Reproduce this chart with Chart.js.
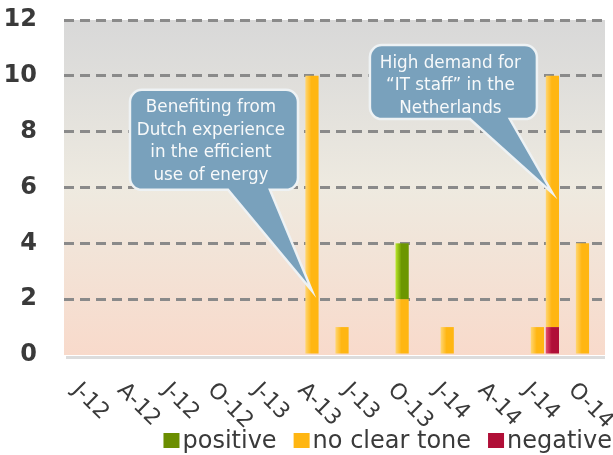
<!DOCTYPE html>
<html>
<head>
<meta charset="utf-8">
<script src="https://cdn.jsdelivr.net/npm/chart.js@4.4.1/dist/chart.umd.min.js"></script>
<style>
  html, body { margin: 0; padding: 0; background: #fff; }
  canvas { display: block; }
</style>
</head>
<body>
<canvas id="chart" width="613" height="455"></canvas>
<script>
// one slot per month, Jan 2012 - Dec 2014 (only every 3rd label is shown)
const months = [
  'J-12','F-12','M-12','A-12','M-12','J-12','J-12','A-12','S-12','O-12','N-12','D-12',
  'J-13','F-13','M-13','A-13','M-13','J-13','J-13','A-13','S-13','O-13','N-13','D-13',
  'J-14','F-14','M-14','A-14','M-14','J-14','J-14','A-14','S-14','O-14','N-14','D-14'
];

// stacked bottom to top: negative, no clear tone, positive
const negative = [
  0,0,0,0,0,0,0,0,0,0,0,0,
  0,0,0,0,0,0,0,0,0,0,0,0,
  0,0,0,0,0,0,0,0,1,0,0,0
];
const noClearTone = [
  0,0,0,0,0,0,0,0,0,0,0,0,
  0,0,0,0,10,0,1,0,0,0,2,0,
  0,1,0,0,0,0,0,1,9,0,4,0
];
const positive = [
  0,0,0,0,0,0,0,0,0,0,0,0,
  0,0,0,0,0,0,0,0,0,0,2,0,
  0,0,0,0,0,0,0,0,0,0,0,0
];

const yTicks = [0, 2, 4, 6, 8, 10, 12];

// speech bubbles: text and the point (month index, value) the tail points at
const callouts = [
  { lines: ['Benefiting from', 'Dutch experience', 'in the efficient', 'use of energy'], month: 16, value: 2.3 },
  { lines: ['High demand for', '\u201CIT staff\u201D in the', 'Netherlands'], month: 32, value: 5.8 }
];

const BAR_PCT = 0.88;

// light left edge -> full colour, like the original bars
function barGradient(light, dark) {
  return (c) => {
    const chart = c.chart;
    if (!chart.chartArea || c.dataIndex === undefined) return dark;
    const x = chart.scales.x;
    const w = (x.right - x.left) / months.length * BAR_PCT;
    const cx = x.getPixelForValue(c.dataIndex);
    const g = chart.ctx.createLinearGradient(cx - w / 2, 0, cx + w / 2, 0);
    g.addColorStop(0, light);
    g.addColorStop(0.45, dark);
    g.addColorStop(1, dark);
    return g;
  };
}

const plotBackground = {
  id: 'plotBackground',
  beforeDraw(chart) {
    const { ctx, chartArea: a } = chart;
    const g = ctx.createLinearGradient(0, a.top, 0, a.bottom);
    g.addColorStop(0, '#d8d8d8');
    g.addColorStop(0.18, '#dfdedb');
    g.addColorStop(0.5, '#eeeae0');
    g.addColorStop(0.78, '#f4e1d4');
    g.addColorStop(1, '#f8dacb');
    ctx.save();
    ctx.fillStyle = g;
    ctx.fillRect(a.left, a.top, a.right - a.left, a.bottom - a.top);
    // soft grey line under the plot
    ctx.fillStyle = '#dcdcdc';
    ctx.fillRect(a.left + 2, a.bottom + 1, a.right - a.left - 2, 3);
    ctx.restore();
  }
};

const slantedLabels = {
  id: 'slantedLabels',
  afterDraw(chart) {
    const { ctx, chartArea } = chart;
    const x = chart.scales.x;
    ctx.save();
    ctx.font = '22px "DejaVu Sans"';
    ctx.fillStyle = '#3a3a3a';
    ctx.textAlign = 'left';
    ctx.textBaseline = 'middle';
    months.forEach((m, i) => {
      if (i % 3) return;
      ctx.save();
      ctx.translate(x.getPixelForValue(i) + 4, chartArea.bottom + 32);
      ctx.rotate(Math.PI / 4);
      ctx.fillText(m, 0, 0);
      ctx.restore();
    });
    ctx.restore();
  }
};

const legendRow = {
  id: 'legendRow',
  afterDraw(chart) {
    const { ctx } = chart;
    const items = chart.data.datasets.slice().reverse();
    ctx.save();
    ctx.font = '24px "DejaVu Sans"';
    ctx.textBaseline = 'alphabetic';
    const widths = items.map(d => ctx.measureText(d.label).width);
    const total = widths.reduce((s, w) => s + w, 0) + items.length * 19 + (items.length - 1) * 17;
    let x = chart.width - 1 - total;
    items.forEach((d, i) => {
      ctx.fillStyle = d.swatch;
      ctx.fillRect(x, 433, 16, 15);
      x += 19;
      ctx.fillStyle = '#3a3a3a';
      ctx.fillText(d.label, x, 448);
      x += widths[i] + 17;
    });
    ctx.restore();
  }
};

function bubblePath(ctx, bx, by, bw, bh, r, t1, t2, tx, ty) {
  ctx.beginPath();
  ctx.moveTo(bx + r, by);
  ctx.lineTo(bx + bw - r, by);
  ctx.arcTo(bx + bw, by, bx + bw, by + r, r);
  ctx.lineTo(bx + bw, by + bh - r);
  ctx.arcTo(bx + bw, by + bh, bx + bw - r, by + bh, r);
  ctx.lineTo(bx + t2, by + bh);
  ctx.lineTo(tx, ty);
  ctx.lineTo(bx + t1, by + bh);
  ctx.lineTo(bx + r, by + bh);
  ctx.arcTo(bx, by + bh, bx, by + bh - r, r);
  ctx.lineTo(bx, by + r);
  ctx.arcTo(bx, by, bx + r, by, r);
  ctx.closePath();
}

const bubbles = {
  id: 'bubbles',
  afterDatasetsDraw(chart, args, opts) {
    const { ctx } = chart;
    const { x, y } = chart.scales;
    callouts.forEach((c, k) => {
      const box = opts.boxes[k];
      const tx = x.getPixelForValue(c.month);
      const ty = y.getPixelForValue(c.value);
      const bx = tx + box.dx, by = ty + box.dy;
      ctx.save();
      bubblePath(ctx, bx, by, box.w, box.h, 12, box.tail[0], box.tail[1], tx, ty);
      ctx.fillStyle = '#79a1bc';
      ctx.fill();
      ctx.lineWidth = 2.5;
      ctx.strokeStyle = '#eef2f4';
      ctx.stroke();
      ctx.font = '16.8px "DejaVu Sans"';
      ctx.fillStyle = '#f7f9fa';
      ctx.textAlign = 'center';
      ctx.textBaseline = 'alphabetic';
      c.lines.forEach((line, i) => {
        ctx.fillText(line, bx + box.w / 2 - 3, by + 22.5 + i * 22.5);
      });
      ctx.restore();
    });
  }
};

new Chart(document.getElementById('chart'), {
  type: 'bar',
  data: {
    labels: months,
    datasets: [
      { label: 'negative', data: negative, swatch: '#b00f37',
        backgroundColor: barGradient('#e9506f', '#b00f37') },
      { label: 'no clear tone', data: noClearTone, swatch: '#ffb612',
        backgroundColor: barGradient('#ffd673', '#ffb612') },
      { label: 'positive', data: positive, swatch: '#6b8e00',
        backgroundColor: barGradient('#b9e82c', '#6c9600') }
    ]
  },
  options: {
    responsive: false,
    animation: false,
    layout: { padding: { top: 20, right: 8, left: 0, bottom: 0 } },
    datasets: { bar: { barPercentage: BAR_PCT, categoryPercentage: 1, borderWidth: 0 } },
    scales: {
      x: {
        stacked: true,
        grid: { display: false },
        border: { display: false },
        ticks: { display: false },
        afterFit(scale) { scale.height = 100; }
      },
      y: {
        stacked: true,
        min: 0,
        max: 12,
        afterBuildTicks(scale) { scale.ticks = yTicks.map(v => ({ value: v })); },
        afterFit(scale) {
          scale.width = 64;
          scale.paddingTop = 0;
          scale.paddingBottom = 0;
        },
        grid: {
          drawTicks: false,
          lineWidth: 3,
          color: (c) => c.tick && c.tick.value === 0 ? 'rgba(0,0,0,0)' : '#8a8a8a'
        },
        border: { display: false, dash: [10, 6] },
        ticks: {
          padding: 27,
          color: '#3a3a3a',
          font: { family: 'DejaVu Sans', size: 24, weight: 'bold' }
        }
      }
    },
    plugins: {
      legend: { display: false },
      tooltip: { enabled: false },
      bubbles: {
        boxes: [
          { dx: -182, dy: -201, w: 168, h: 100, tail: [98, 140] },
          { dx: -182.5, dy: -148, w: 167, h: 74, tail: [100, 140] }
        ]
      }
    }
  },
  plugins: [plotBackground, slantedLabels, legendRow, bubbles]
});
</script>
</body>
</html>
